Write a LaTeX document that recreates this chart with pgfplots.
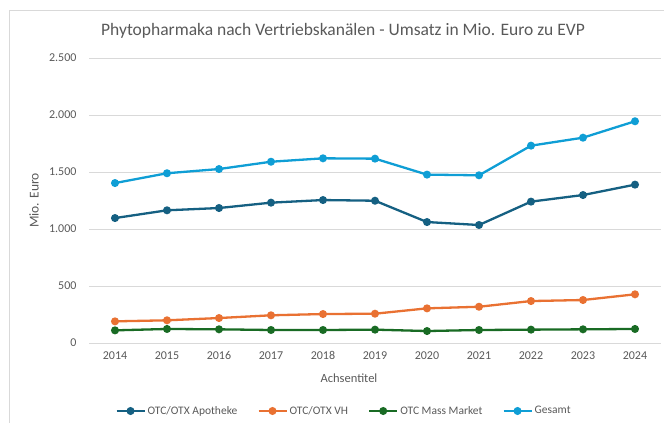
\documentclass[border=0pt]{standalone}
\usepackage{fontspec}
\setmainfont{Carlito}
\usepackage{pgfplots}
\pgfplotsset{compat=1.18}

\definecolor{txt}{HTML}{595959}
\definecolor{gridc}{HTML}{D9D9D9}
\definecolor{apo}{HTML}{156082}
\definecolor{vh}{HTML}{E97132}
\definecolor{mm}{HTML}{196B24}
\definecolor{ges}{HTML}{0F9ED5}

\begin{document}
\begin{tikzpicture}
\useasboundingbox (0,0) rectangle (664bp,423bp);
\draw[gridc, line width=0.8bp] (9bp,-20bp) rectangle (679bp,413bp);
\node[txt, font=\fontsize{17.5bp}{20bp}\selectfont] at (343bp,392bp)
  {Phytopharmaka nach Vertriebskanälen - Umsatz in Mio. Euro zu EVP};
\begin{axis}[
  at={(89bp,80bp)}, anchor=south west,
  scale only axis,
  width=572bp, height=285bp,
  xmin=2013.5, xmax=2024.5,
  ymin=0, ymax=2500,
  xtick={2014,...,2024},
  xticklabels={2014,2015,2016,2017,2018,2019,2020,2021,2022,2023,2024},
  ytick={0,500,1000,1500,2000,2500},
  yticklabels={0,500,1.000,1.500,2.000,2.500},
  axis line style={draw=none},
  major tick length=0pt,
  xmajorgrids=false,
  ymajorgrids=true,
  grid style={draw=gridc, line width=0.8bp},
  tick label style={txt, font=\fontsize{12bp}{14bp}\selectfont},
  xticklabel style={yshift=-5bp},
  yticklabel style={xshift=-9bp},
  every axis y label/.style={at={(axis description cs:0,0.5)}, rotate=90, anchor=center, yshift=55bp, txt, font=\fontsize{13.5bp}{15bp}\selectfont},
  every axis x label/.style={at={(axis description cs:0.4545,0)}, anchor=center, yshift=-35bp, txt, font=\fontsize{12.5bp}{14bp}\selectfont},
  ylabel={Mio. Euro},
  xlabel={Achsentitel},
  legend columns=4,
  legend style={at={(0.4458,-0.2386)}, anchor=center, draw=none, fill=none,
    font=\fontsize{11.5bp}{13bp}\selectfont, text=txt,
    /tikz/every even column/.append style={column sep=18bp}},
  legend image code/.code={\draw[mark repeat=2,mark phase=2] plot coordinates {(0bp,0bp) (14bp,0bp) (28bp,0bp)};},
  every axis plot/.append style={line width=2.3bp, mark=*, mark size=2.8bp, mark options={solid}},
]
\addplot[apo] coordinates {(2014,1096) (2015,1164) (2016,1184) (2017,1231) (2018,1254) (2019,1248) (2020,1061) (2021,1035) (2022,1240) (2023,1298) (2024,1389)};
\addlegendentry{OTC/OTX Apotheke}
\addplot[vh] coordinates {(2014,190) (2015,199) (2016,219) (2017,243) (2018,254) (2019,257) (2020,304) (2021,318) (2022,368) (2023,377) (2024,427)};
\addlegendentry{OTC/OTX VH}
\addplot[mm] coordinates {(2014,111) (2015,123) (2016,120) (2017,114) (2018,114) (2019,117) (2020,105) (2021,114) (2022,117) (2023,120) (2024,123)};
\addlegendentry{OTC Mass Market}
\addplot[ges] coordinates {(2014,1403) (2015,1489) (2016,1526) (2017,1590) (2018,1620) (2019,1617) (2020,1477) (2021,1471) (2022,1731) (2023,1801) (2024,1945)};
\addlegendentry{Gesamt}
\end{axis}
\end{tikzpicture}
\end{document}
